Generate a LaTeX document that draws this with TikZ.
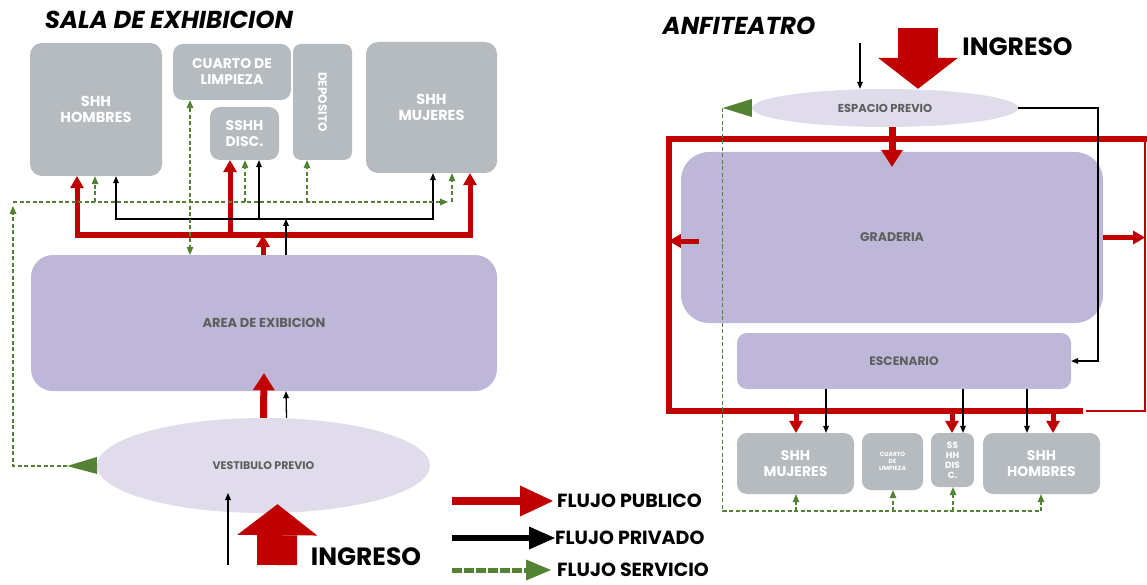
\documentclass[tikz,border=0pt]{standalone}
\usepackage{fontspec}
\setmainfont{Poppins}
\usetikzlibrary{arrows.meta,shapes.geometric}
\definecolor{flowred}{HTML}{C00000}
\definecolor{flowgreen}{HTML}{548235}
\definecolor{roomgray}{HTML}{B6BBBF}
\definecolor{zonelila}{HTML}{BFB7D7}
\definecolor{lobbylila}{HTML}{E0DCEB}
\definecolor{labelgray}{HTML}{5E5E5E}
\newcommand{\sizept}[2]{\fontsize{#1}{#2}\selectfont}
\tikzset{
  redtip/.tip={Triangle[width=14pt,length=12pt,line width=0pt]},
  bigtip/.tip={Triangle[width=22pt,length=17pt,line width=0pt]},
  blktip/.tip={Triangle[width=6pt,length=7pt,line width=0pt]},
  grntip/.tip={Triangle[width=7pt,length=8pt,line width=0pt]},
  room/.style={fill=roomgray,rounded corners=12pt,inner sep=0pt,align=center,text=white,font=\bfseries\sizept{14.5}{16}},
  zone/.style={fill=zonelila,rounded corners=22pt,inner sep=0pt,text=labelgray,font=\bfseries\sizept{12.5}{14}},
  lobby/.style={ellipse,fill=lobbylila,inner sep=0pt,text=labelgray,font=\bfseries\sizept{11}{13}},
  pub/.style={draw=flowred,line width=5pt,-redtip},
  pubbig/.style={draw=flowred,line width=7pt,-bigtip},
  priv/.style={draw=black,line width=1.3pt,-blktip},
  serv/.style={draw=flowgreen,line width=1.2pt,dash pattern=on 4pt off 2.5pt,-grntip},
  ingress/.style={draw=flowred,line width=40pt,-{Triangle[width=80pt,length=31pt,line width=0pt]}},
  ringline/.style={draw=flowred,line width=6pt},
  ringthin/.style={draw=flowred,line width=2pt},
  headline/.style={font=\bfseries\itshape\sizept{24.5}{26}},
  lab/.style={font=\bfseries\sizept{19}{20},anchor=west,inner sep=0pt},
}
\begin{document}
\begin{tikzpicture}[x=1pt,y=-1pt]
\useasboundingbox (0,0) rectangle (1147,585);
\node[headline] (ltit) at (169,20) {SALA DE EXHIBICION};
\node[room,minimum width=132,minimum height=133] (lhom) at (96,109.5) {SHH\\HOMBRES};
\node[room,minimum width=118,minimum height=56,rounded corners=10pt,font=\bfseries\sizept{14}{16}] (lcua) at (232,72) {CUARTO DE\\LIMPIEZA};
\node[room,minimum width=69,minimum height=53,rounded corners=10pt,font=\bfseries\sizept{14}{16}] (ldis) at (244.5,133.5) {SSHH\\DISC.};
\node[room,minimum width=59,minimum height=116,rounded corners=8pt,font=\bfseries\sizept{12}{14}] (ldep) at (322.5,102) {\rotatebox{-90}{DEPOSITO}};
\node[room,minimum width=131,minimum height=131] (lmuj) at (431.5,107.5) {SHH\\MUJERES};
\node[zone,minimum width=466,minimum height=136,font=\bfseries\sizept{13}{15}] (area) at (264,323) {AREA DE EXIBICION};
\node[lobby,minimum width=333,minimum height=95] (vest) at (263.5,465.5) {VESTIBULO PREVIO};
\coordinate (rw) at (77,235); \coordinate (re) at (470,235);
\coordinate (rd) at (230,235); \coordinate (ra) at (263,235);
\draw[pub,redtip-redtip] (rw |- lhom.south) -- (rw) -- (re) -- (re |- lmuj.south);
\draw[pub] (rd) -- (rd |- ldis.south);
\draw[pub] (ra |- area.north) -- (ra);
\coordinate (kw) at (116,219); \coordinate (ke) at (433,219);
\coordinate (kd) at (259,219); \coordinate (ka) at (286,219);
\draw[priv,blktip-blktip] (kw |- lhom.south) -- (kw) -- (ke) -- (ke |- lmuj.south);
\draw[priv] (kd) -- (kd |- ldis.south);
\draw[priv] (ka |- area.north) -- (ka);
\coordinate (gw) at (13,202); \coordinate (ge) at (448,202);
\coordinate (gv) at (13,466); \coordinate (gt) at (67,466);
\coordinate (gc) at (190,180);
\draw[serv,-{Triangle[width=17pt,length=30pt,line width=0pt]}] (vest.west) -- (gt);
\draw[serv] (gt) -- (gv) -- ([yshift=-4pt]gw);
\draw[serv] (gw) -- (ge);
\foreach \x/\n in {95/lhom,245/ldis,307/ldep,452/lmuj} {
  \coordinate (gx) at (\x,202);
  \draw[serv] (gx) -- (gx |- \n.south);
}
\draw[serv,grntip-grntip] (gc |- lcua.south) -- (gc |- area.north);
\draw[pubbig] (vest.north) -- ([yshift=18pt]area.south);
\draw[priv] ([xshift=23pt]vest.north) -- ([xshift=22pt]area.south);
\coordinate (ing) at (277,565); \coordinate (ink) at (228,565);
\draw[ingress] (ing) -- ([xshift=14pt,yshift=9pt]vest.south);
\draw[priv] (ink) -- ++(0,-72);
\node[font=\bfseries\sizept{25}{27}] (ingl) at (366,557) {INGRESO};
\node[headline] (rtit) at (739,25.5) {ANFITEATRO};
\node[lobby,minimum width=266,minimum height=38,font=\bfseries\sizept{11.5}{13}] (esp) at (885,108) {ESPACIO PREVIO};
\node[zone,minimum width=422,minimum height=171,rounded corners=28pt] (grad) at (892,237.5) {GRADERIA};
\node[zone,minimum width=334,minimum height=56,rounded corners=10pt,font=\bfseries\sizept{12.2}{14}] (esc) at (904,361) {ESCENARIO};
\node[room,minimum width=117,minimum height=61,rounded corners=10pt,font=\bfseries\sizept{14}{15.5}] (rmuj) at (795.5,463.5) {SHH\\MUJERES};
\node[room,minimum width=61,minimum height=57,rounded corners=9pt,font=\bfseries\sizept{6}{7}] (rcua) at (892.5,461.5) {CUARTO\\DE\\LIMPIEZA};
\node[room,minimum width=43,minimum height=54,rounded corners=8pt,font=\bfseries\sizept{9}{10}] (rdis) at (952.5,460) {SS\\HH\\DIS\\C.};
\node[room,minimum width=117,minimum height=61,rounded corners=10pt,font=\bfseries\sizept{14}{15.5}] (rhom) at (1041.5,463.5) {SHH\\HOMBRES};
\coordinate (fnw) at (669,139); \coordinate (fse) at (1145,411);
\coordinate (fne) at (1147,139); \coordinate (fsm) at (1083,411); \coordinate (fsr) at (1086,411);
\draw[ringline] (fne) -- (fnw) |- (fsm);
\draw[ringthin] (fsr) -| (fne -| fse);
\coordinate (ring) at (918,28); \coordinate (rk) at (860,43);
\draw[ingress] (ring) -- (ring |- esp.north);
\draw[priv] (rk) -- (rk |- esp.north);
\node[font=\bfseries\sizept{25}{27}] (ringl) at (1017.5,47) {INGRESO};
\draw[pubbig] ([xshift=7pt]esp.south) -- ([yshift=-15pt]grad.north);
\draw[pub] ([xshift=18pt,yshift=-3.5pt]grad.west) -- ++(-30,0);
\draw[pub] (grad.east) -- (grad.east -| fse);
\coordinate (kr) at (1098,361);
\draw[priv] (esp.east) -| (kr) -- (esc.east);
\foreach \x/\n in {826/rmuj,963/rdis,1027/rhom} {
  \coordinate (kx) at (\x,389);
  \draw[priv] (kx |- esc.south) -- (kx |- \n.north);
}
\foreach \x/\n in {796/rmuj,952/rdis,1053/rhom} {
  \coordinate (rx) at (\x,411);
  \draw[pub] (rx) -- (rx |- \n.north);
}
\draw[serv,-{Triangle[width=18pt,length=29pt,line width=0pt]}] (esp.west) -- ++(-29,0);
\coordinate (gse) at (1041,511);
\draw[serv,-] ([xshift=-29pt]esp.west) |- (gse);
\foreach \x/\n in {796/rmuj,893/rcua,953/rdis,1041/rhom} {
  \coordinate (gx) at (\x,511);
  \draw[serv] (gx) -- (gx |- \n.south);
}
\node[lab] (lpub) at (557,501) {FLUJO PUBLICO};
\node[lab] (lpriv) at (555,538) {FLUJO PRIVADO};
\node[lab] (lserv) at (557,570) {FLUJO SERVICIO};
\coordinate (lp) at (452,501); \coordinate (lk) at (452,538); \coordinate (lg) at (452,570);
\draw[draw=flowred,line width=8pt,-{Triangle[width=31pt,length=33pt,line width=0pt]}] (lp) -- ([xshift=-4pt]lpub.west);
\draw[line width=6pt,-{Triangle[width=23pt,length=26pt,line width=0pt]}] (lk) -- (lpriv.west);
\draw[draw=flowgreen,line width=5pt,dash pattern=on 10pt off 2pt,-{Triangle[width=21pt,length=25pt,line width=0pt]}] (lg) -- ([xshift=-6pt]lserv.west);
\end{tikzpicture}
\end{document}
